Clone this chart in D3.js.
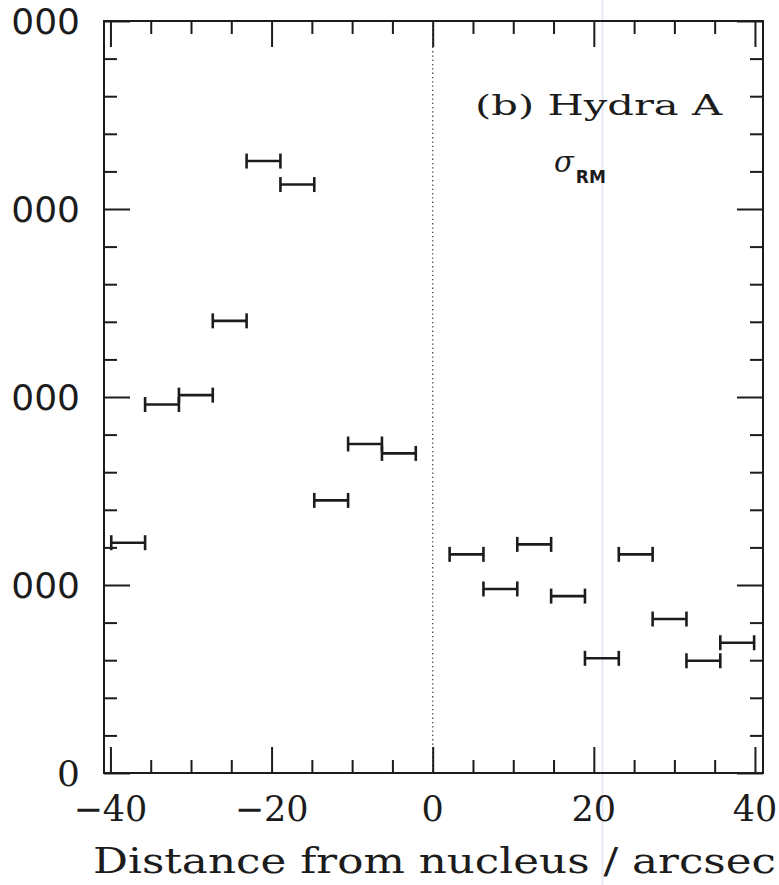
<!DOCTYPE html>
<html>
<head>
<meta charset="utf-8">
<script src="https://cdn.jsdelivr.net/npm/d3@7"></script>
<style>
  body { margin: 0; background: #fff; }
  svg { display: block; }
</style>
</head>
<body>
<svg id="chart" width="779" height="885"></svg>
<script>
// distance bins (arcsec) and sigma_RM per bin
const distLow  = [-39.9, -35.7, -31.5, -27.3, -23.1, -18.9, -14.7, -10.5, -6.3,
                   2.1,   6.3,  10.5,  14.7,  18.9,  23.1,  27.3,  31.5, 35.7];
const distHigh = [-35.7, -31.5, -27.3, -23.1, -18.9, -14.7, -10.5, -6.3, -2.1,
                   6.3,  10.5,  14.7,  18.9,  23.1,  27.3,  31.5,  35.7, 39.9];
const sigmaRM  = [1225, 1960, 2010, 2405, 3255, 3130, 1450, 1750, 1700,
                  1163,  979, 1216,  941,  610, 1163,  819,  597,  693];

const xMajorTicks = [-40, -20, 0, 20, 40];
const xTickLabels = ["\u221240", "\u221220", "0", "20", "40"];
const yMajorTicks = [0, 1000, 2000, 3000, 4000];
const yTickLabels = ["0", "000", "000", "000", "000"];

const svg = d3.select("#chart");
const ink = "#1c1c1c";

const plotL = 104, plotR = 763, plotT = 21, plotB = 773;
const x = d3.scaleLinear().domain([-40.8, 41]).range([plotL, plotR]);
const y = d3.scaleLinear().domain([0, 4000]).range([plotB, plotT]);

const xMinor = d3.range(-40, 41, 5).filter(d => !xMajorTicks.includes(d));
const yMinor = d3.range(0, 4001, 200).filter(d => !yMajorTicks.includes(d));

// faint scanner streak
svg.append("line")
  .attr("x1", 602.5).attr("x2", 602.5).attr("y1", 0).attr("y2", 885)
  .attr("stroke", "#e8e8f5").attr("stroke-width", 2);

// dotted line at the nucleus
svg.append("line")
  .attr("x1", x(0)).attr("x2", x(0)).attr("y1", plotT).attr("y2", plotB)
  .attr("stroke", "#444").attr("stroke-width", 1.3)
  .attr("stroke-dasharray", "1.3,3");

function tickAxis(axisFn, scale, values, size, transform) {
  const g = svg.append("g").attr("transform", transform)
    .call(axisFn(scale).tickValues(values).tickSize(-size).tickFormat(""));
  g.select(".domain").remove();
  g.selectAll(".tick line").attr("stroke", ink).attr("stroke-width", 2);
}

tickAxis(d3.axisBottom, x, xMajorTicks, 26, `translate(0,${plotB})`);
tickAxis(d3.axisBottom, x, xMinor, 13, `translate(0,${plotB})`);
tickAxis(d3.axisTop, x, xMajorTicks, 26, `translate(0,${plotT})`);
tickAxis(d3.axisTop, x, xMinor, 13, `translate(0,${plotT})`);
tickAxis(d3.axisLeft, y, yMajorTicks, 26, `translate(${plotL},0)`);
tickAxis(d3.axisLeft, y, yMinor, 13, `translate(${plotL},0)`);
tickAxis(d3.axisRight, y, yMajorTicks, 26, `translate(${plotR},0)`);
tickAxis(d3.axisRight, y, yMinor, 13, `translate(${plotR},0)`);

// frame
svg.append("rect")
  .attr("x", plotL).attr("y", plotT)
  .attr("width", plotR - plotL).attr("height", plotB - plotT)
  .attr("fill", "none").attr("stroke", ink).attr("stroke-width", 2);

// x tick labels
svg.append("g").selectAll("text").data(xMajorTicks).join("text")
  .attr("x", d => x(d))
  .attr("y", 821)
  .attr("text-anchor", "middle")
  .attr("font-family", "'DejaVu Serif', serif")
  .attr("font-size", 35)
  .attr("fill", ink)
  .text((d, i) => xTickLabels[i]);

// y tick labels (left edge of the original is cut off)
svg.append("g").selectAll("text").data(yMajorTicks).join("text")
  .attr("x", 80)
  .attr("y", d => y(d) + 13)
  .attr("text-anchor", "end")
  .attr("font-family", (d, i) => yTickLabels[i] === "0" ? "'DejaVu Serif', serif" : "'DejaVu Sans', sans-serif")
  .attr("font-size", 36)
  .attr("fill", ink)
  .text((d, i) => yTickLabels[i]);

// axis title
svg.append("text")
  .attr("x", 93).attr("y", 873)
  .attr("textLength", 683).attr("lengthAdjust", "spacingAndGlyphs")
  .attr("font-family", "'DejaVu Serif', serif")
  .attr("font-size", 36)
  .attr("fill", ink)
  .text("Distance from nucleus / arcsec");

// panel label
svg.append("text")
  .attr("x", 475).attr("y", 115)
  .attr("textLength", 247).attr("lengthAdjust", "spacingAndGlyphs")
  .attr("font-family", "'DejaVu Serif', serif")
  .attr("font-size", 28)
  .attr("fill", ink)
  .text("(b) Hydra A");

const sig = svg.append("text")
  .attr("x", 554).attr("y", 172)
  .attr("font-family", "'DejaVu Serif', serif")
  .attr("fill", ink);
sig.append("tspan").attr("font-size", 29).attr("font-style", "italic").text("\u03c3");
sig.append("tspan").attr("font-size", 17).attr("font-weight", "bold")
  .attr("font-family", "'DejaVu Sans', sans-serif")
  .attr("dx", 2).attr("dy", 11).text("RM");

// horizontal error bars
const bars = svg.append("g").attr("stroke", ink).attr("stroke-width", 2.6);
sigmaRM.forEach((v, i) => {
  const x0 = x(distLow[i]), x1 = x(distHigh[i]), yy = y(v);
  bars.append("line").attr("x1", x0).attr("x2", x1).attr("y1", yy).attr("y2", yy);
  [x0, x1].forEach(xx => {
    bars.append("line").attr("x1", xx).attr("x2", xx).attr("y1", yy - 7.5).attr("y2", yy + 7.5);
  });
});
</script>
</body>
</html>
